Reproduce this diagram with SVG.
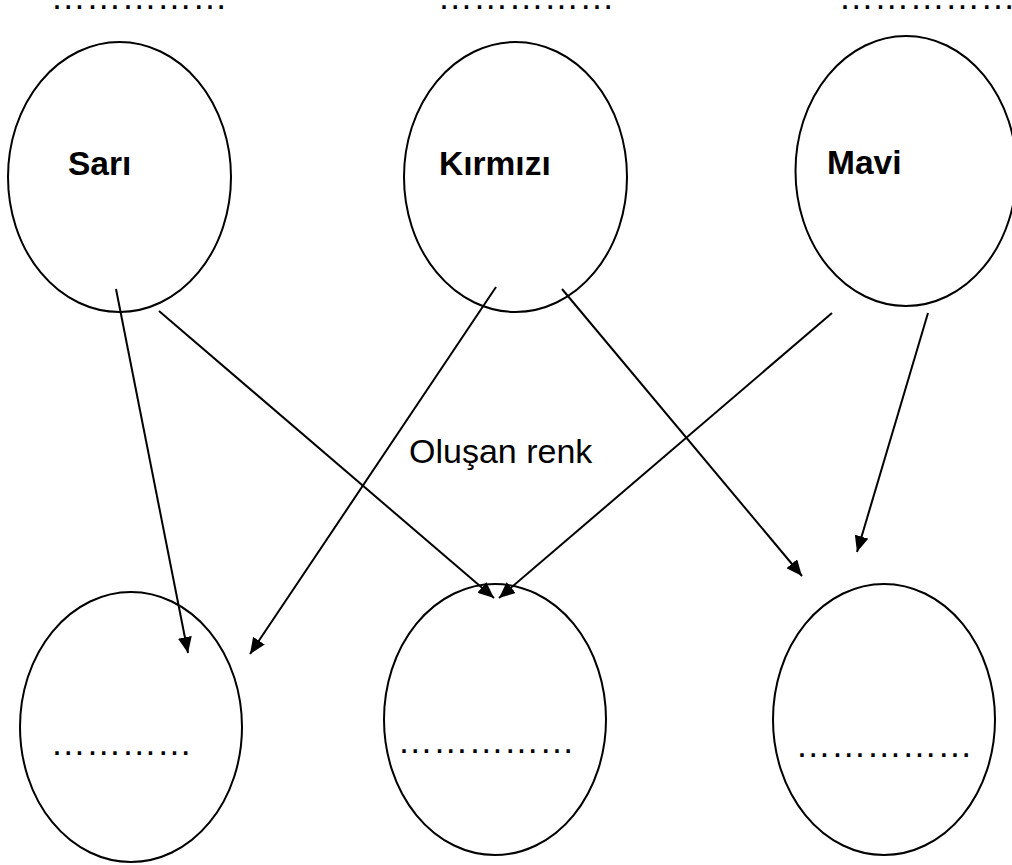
<svg xmlns="http://www.w3.org/2000/svg" width="1012" height="865" viewBox="0 0 1012 865">
<defs>
<style>
.node{fill:none;stroke:#000;stroke-width:2}
.lbl{font-family:"Liberation Sans",Arial,sans-serif;font-weight:bold;font-size:33.5px;fill:#000}
.dots{font-family:"Liberation Sans",Arial,sans-serif;font-size:35.4px;fill:#000}
.cap{font-family:"Liberation Sans",Arial,sans-serif;font-size:34px;fill:#000}
.edge{stroke:#000;stroke-width:2;fill:none;marker-end:url(#ah)}
</style>
<marker id="ah" markerUnits="userSpaceOnUse" markerWidth="18" markerHeight="14" refX="16" refY="7" orient="auto">
<path d="M0,0 L16,7 L0,14 Z" fill="#000"/>
</marker>
</defs>
<rect width="1012" height="865" fill="#fff"/>
<g id="top-dots">
<text class="dots" x="50.6" y="9">……………</text>
<text class="dots" x="437.6" y="9">……………</text>
<text class="dots" x="838.6" y="9">……………</text>
</g>
<g id="node-sari">
<ellipse class="node" cx="119.5" cy="177" rx="111.5" ry="135"/>
<text class="lbl" x="68" y="175">Sarı</text>
</g>
<g id="node-kirmizi">
<ellipse class="node" cx="515.5" cy="177" rx="111.5" ry="135"/>
<text class="lbl" x="439" y="175">Kırmızı</text>
</g>
<g id="node-mavi">
<ellipse class="node" cx="906" cy="171" rx="110.5" ry="135"/>
<text class="lbl" x="827" y="174">Mavi</text>
</g>
<g id="node-result1">
<ellipse class="node" cx="131" cy="727" rx="111" ry="135"/>
<text class="dots" x="50.6" y="755">…………</text>
</g>
<g id="node-result2">
<ellipse class="node" cx="495" cy="719.5" rx="111" ry="135.5"/>
<text class="dots" x="397.6" y="753">……………</text>
</g>
<g id="node-result3">
<ellipse class="node" cx="884" cy="719.5" rx="111" ry="135.5"/>
<text class="dots" x="795.6" y="757">……………</text>
</g>
<g id="caption">
<text class="cap" x="409" y="463">Oluşan renk</text>
</g>
<g id="connectors">
<line class="edge" x1="116" y1="289" x2="188" y2="653"/>
<line class="edge" x1="496" y1="287" x2="250" y2="654"/>
<line class="edge" x1="159" y1="311" x2="494" y2="598"/>
<line class="edge" x1="832" y1="313" x2="499" y2="598"/>
<line class="edge" x1="562" y1="289" x2="802" y2="576"/>
<line class="edge" x1="928" y1="313" x2="857" y2="552"/>
</g>
</svg>
